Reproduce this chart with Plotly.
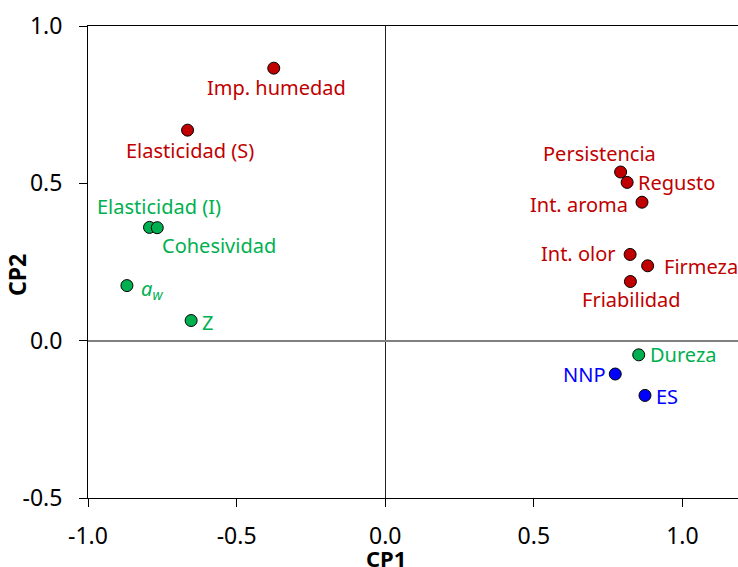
import plotly.graph_objects as go

# ---- data ----
red_names = ["Imp. humedad", "Elasticidad (S)", "Persistencia", "Regusto",
             "Int. aroma", "Int. olor", "Firmeza", "Friabilidad"]
red_x = [-0.375, -0.665, 0.792, 0.814, 0.864, 0.824, 0.883, 0.825]
red_y = [0.866, 0.669, 0.536, 0.503, 0.440, 0.274, 0.238, 0.188]

green_names = ["Elasticidad (I)", "Cohesividad", "<i>a</i><sub><i>w</i></sub>", "Z", "Dureza"]
green_x = [-0.793, -0.767, -0.869, -0.653, 0.853]
green_y = [0.360, 0.359, 0.175, 0.064, -0.045]

blue_names = ["NNP", "ES"]
blue_x = [0.774, 0.874]
blue_y = [-0.106, -0.174]

x_ticks = [-1.0, -0.5, 0.0, 0.5, 1.0]
y_ticks = [-0.5, 0.0, 0.5, 1.0]

# label placement styles (anchor, xshift, yshift in px)
red_style = [("center", 3, -19), ("center", 2, -20), ("center", -21, 19), ("left", 9, 0),
             ("right", -12, -2), ("right", -12, 1), ("left", 14, -1), ("center", 1, -18)]
green_style = [("center", 9, 21), ("left", 3, -18), ("left", 12, -4), ("left", 9, -2), ("left", 9, 0)]
blue_style = [("right", -7, 0), ("left", 9, -1)]

RED = "#C00000"
GREEN = "#00B050"
BLUE = "#0000FF"
FONT = "Noto Sans"

fig = go.Figure()
annotations = []
for names, xs, ys, col, style in [
    (red_names, red_x, red_y, RED, red_style),
    (green_names, green_x, green_y, GREEN, green_style),
    (blue_names, blue_x, blue_y, BLUE, blue_style),
]:
    fig.add_trace(go.Scatter(
        x=xs, y=ys, mode="markers",
        marker=dict(size=12, color=col, line=dict(color="black", width=1)),
        hoverinfo="text", text=names, showlegend=False,
    ))
    for n, x, y, (anc, dx, dy) in zip(names, xs, ys, style):
        annotations.append(dict(
            x=x, y=y, xref="x", yref="y", text=n, showarrow=False,
            xanchor=anc, yanchor="middle", xshift=dx, yshift=dy,
            font=dict(family=FONT, size=20, color=col),
        ))

annotations.append(dict(
    x=0.458, y=0, xref="paper", yref="paper", yshift=-77, text="<b>CP1</b>",
    showarrow=False, xanchor="center", yanchor="bottom",
    font=dict(family=FONT, size=22, color="black"),
))
annotations.append(dict(
    x=0, y=0.5, xref="paper", yref="paper", xshift=-53, yshift=-13, text="<b>CP2</b>",
    showarrow=False, xanchor="right", yanchor="middle", textangle=-90,
    font=dict(family=FONT, size=23, color="black"),
))

fig.update_layout(
    width=738, height=567,
    margin=dict(l=88, r=0, t=26, b=69),
    plot_bgcolor="white", paper_bgcolor="white",
    annotations=annotations,
    font=dict(family=FONT, color="black"),
)
fig.update_xaxes(
    range=[-1.0, 1.187], tickvals=x_ticks, ticktext=[f"{v:.1f}" for v in x_ticks],
    showgrid=False, showline=True, linecolor="black", linewidth=1, mirror=True,
    ticks="outside", ticklen=8, tickcolor="black", ticklabelstandoff=9,
    zeroline=True, zerolinecolor="#222222", zerolinewidth=1,
    tickfont=dict(family=FONT, size=23, color="black"),
)
fig.update_yaxes(
    range=[-0.5, 1.0], tickvals=y_ticks, ticktext=[f"{v:.1f}" for v in y_ticks],
    showgrid=False, showline=True, linecolor="black", linewidth=1,
    ticks="outside", ticklen=8, tickcolor="black", ticklabelstandoff=12,
    zeroline=True, zerolinecolor="#808080", zerolinewidth=1.5,
    tickfont=dict(family=FONT, size=23, color="black"),
)

fig.write_html("out.html", config={"displayModeBar": False},
               post_script="document.body.style.margin='0';document.body.style.overflow='hidden';")
